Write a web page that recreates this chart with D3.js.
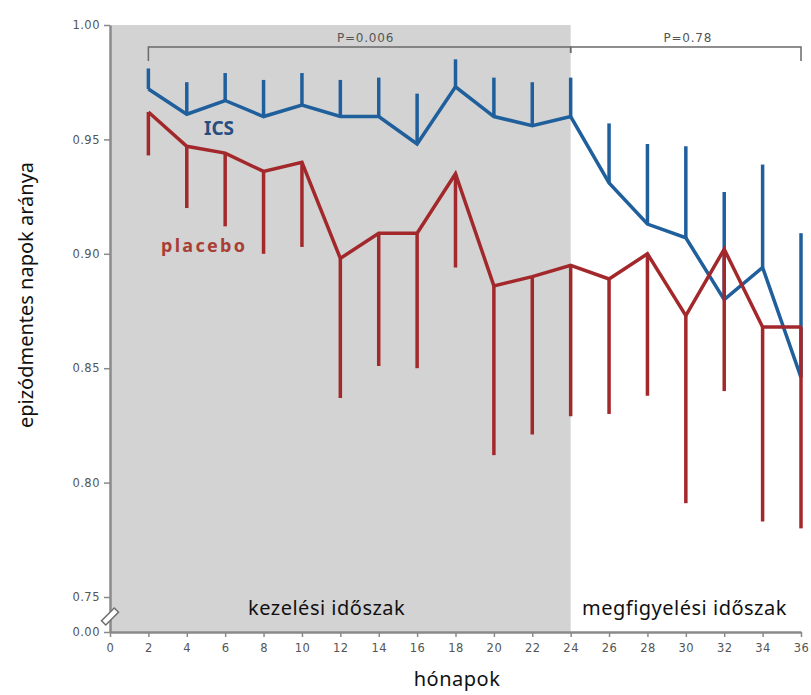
<!DOCTYPE html>
<meta charset="utf-8">
<style>
    body {
        margin: 0;
        background: #fff;
    }
    .tick text {
        font: 11.5px "DejaVu Sans", sans-serif;
        fill: #555;
        letter-spacing: 0.5px;
    }
    .axis path, .axis line {
        stroke: #8a8a8a;
    }
    .axis path {
        stroke-width: 2.5;
    }
    .axis line {
        stroke-width: 1.5;
    }
    .label {
        font-family: "Noto Sans", sans-serif;
        fill: #111;
    }
    .pval {
        font: 12px "DejaVu Sans", sans-serif;
        fill: #555;
        letter-spacing: 0.8px;
    }
</style>
<body>
<script src="https://cdn.jsdelivr.net/npm/d3@7/dist/d3.min.js"></script>
<script>
    var months = [2, 4, 6, 8, 10, 12, 14, 16, 18, 20, 22, 24, 26, 28, 30, 32, 34, 36];

    var ics      = [0.972, 0.961, 0.967, 0.960, 0.965, 0.960, 0.960, 0.948, 0.973, 0.960, 0.956, 0.960,
                    0.931, 0.913, 0.907, 0.880, 0.894, 0.846];
    var icsUpper = [0.981, 0.975, 0.979, 0.976, 0.979, 0.976, 0.977, 0.970, 0.985, 0.977, 0.975, 0.977,
                    0.957, 0.948, 0.947, 0.927, 0.939, 0.909];

    var placebo      = [0.962, 0.947, 0.944, 0.936, 0.940, 0.898, 0.909, 0.909, 0.935, 0.886, 0.890, 0.895,
                        0.889, 0.900, 0.873, 0.902, 0.868, 0.868];
    var placeboLower = [0.943, 0.920, 0.912, 0.900, 0.903, 0.837, 0.851, 0.850, 0.894, 0.812, 0.821, 0.829,
                        0.830, 0.838, 0.791, 0.840, 0.783, 0.780];

    var xTicks = d3.range(0, 37, 2);
    var yTicks = [0, 0.75, 0.80, 0.85, 0.90, 0.95, 1.00];

    var width = 811, height = 695;

    var x = d3.scaleLinear().domain([0, 36]).range([110, 801]);
    // broken axis: 0 .. 0.75 squeezed into a short stub
    var y = d3.scaleLinear().domain([0, 0.75, 1]).range([632, 597, 25]);

    var blue = "#1f5f9c", red = "#a3282b";

    var svg = d3.select("body").append("svg")
        .attr("width", width)
        .attr("height", height);

    // treatment period shading
    svg.append("rect")
        .attr("x", x(0))
        .attr("y", y(1))
        .attr("width", x(24) - x(0))
        .attr("height", y(0) - y(1))
        .attr("fill", "#d3d3d3");

    svg.append("g")
        .attr("class", "axis")
        .attr("transform", "translate(0," + y(0) + ")")
        .call(d3.axisBottom(x).tickValues(xTicks).tickSize(5).tickSizeOuter(0).tickFormat(d3.format("d")))
        .selectAll("text").attr("dy", "1.05em");

    svg.append("g")
        .attr("class", "axis")
        .attr("transform", "translate(" + x(0) + ",0)")
        .call(d3.axisLeft(y).tickValues(yTicks).tickSize(6).tickSizeOuter(0).tickFormat(d3.format(".2f")))
        .selectAll("text").attr("dx", "-1px");

    // axis break mark
    var bm = (y(0) + y(0.75)) / 2 + 2;
    var brk = svg.append("g").attr("transform", "translate(" + x(0) + "," + bm + ") rotate(-45)");
    brk.append("rect").attr("x", -9).attr("y", -3).attr("width", 18).attr("height", 6)
        .attr("fill", "#fff").attr("stroke", "#6e6e6e").attr("stroke-width", 1.5);

    // p-value brackets
    var by = 47;
    svg.append("path")
        .attr("d", "M" + x(2) + "," + (by + 14) + "V" + by + "H" + x(24) + "v6")
        .attr("fill", "none").attr("stroke", "#6a6a6a").attr("stroke-width", 1.5);
    svg.append("path")
        .attr("d", "M" + x(24) + "," + (by + 6) + "V" + by + "H" + x(36) + "v14")
        .attr("fill", "none").attr("stroke", "#6a6a6a").attr("stroke-width", 1.5);
    svg.append("text").attr("class", "pval")
        .attr("x", (x(2) + x(24)) / 2 + 6).attr("y", by - 5)
        .attr("text-anchor", "middle").text("P=0.006");
    svg.append("text").attr("class", "pval")
        .attr("x", (x(24) + x(36)) / 2 + 2).attr("y", by - 5)
        .attr("text-anchor", "middle").text("P=0.78");

    var line = d3.line()
        .x(function(d) { return x(d[0]); })
        .y(function(d) { return y(d[1]); });

    function series(vals, ends, color) {
        var g = svg.append("g");
        g.selectAll("line")
            .data(months)
            .join("line")
            .attr("x1", function(d) { return x(d); })
            .attr("x2", function(d) { return x(d); })
            .attr("y1", function(d, i) { return y(vals[i]); })
            .attr("y2", function(d, i) { return y(ends[i]); })
            .attr("stroke", color)
            .attr("stroke-width", 3.5);
        g.append("path")
            .datum(months.map(function(m, i) { return [m, vals[i]]; }))
            .attr("d", line)
            .attr("fill", "none")
            .attr("stroke", color)
            .attr("stroke-width", 3.5)
            .attr("stroke-linejoin", "miter");
    }

    series(ics, icsUpper, blue);
    series(placebo, placeboLower, red);

    // series labels
    svg.append("text").attr("class", "label")
        .attr("x", 204).attr("y", 135)
        .attr("font-size", 19).attr("font-weight", "bold")
        .style("fill", "#2a4d80")
        .text("ICS");
    svg.append("text").attr("class", "label")
        .attr("x", 161).attr("y", 252)
        .attr("font-size", 18).attr("font-weight", "bold")
        .style("fill", "#a83e36").style("letter-spacing", "2.3px")
        .text("placebo");

    // period labels
    svg.append("text").attr("class", "label")
        .attr("x", 248).attr("y", 615).attr("font-size", 20)
        .style("letter-spacing", "0.5px")
        .text("kezelési időszak");
    svg.append("text").attr("class", "label")
        .attr("x", 582).attr("y", 615).attr("font-size", 20)
        .style("letter-spacing", "0.5px")
        .text("megfigyelési időszak");

    // axis titles
    svg.append("text").attr("class", "label")
        .attr("x", 457).attr("y", 686).attr("font-size", 20)
        .attr("text-anchor", "middle")
        .style("letter-spacing", "0.5px")
        .text("hónapok");
    svg.append("text").attr("class", "label")
        .attr("transform", "translate(33,295) rotate(-90)")
        .attr("font-size", 20)
        .attr("text-anchor", "middle")
        .text("epizódmentes napok aránya");
</script>
